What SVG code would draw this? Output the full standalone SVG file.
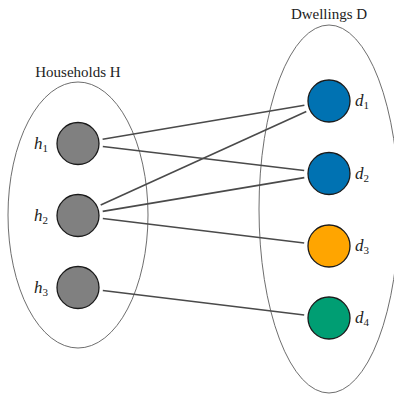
<svg xmlns="http://www.w3.org/2000/svg" width="394" height="394" viewBox="0 0 394 394">
<rect width="394" height="394" fill="#fff"/>
<g id="sets" fill="none" stroke="#6e6e6e" stroke-width="1">
<ellipse cx="78" cy="215" rx="70" ry="133"/>
<ellipse cx="329" cy="209" rx="70" ry="184"/>
</g>
<g id="titles" font-family="Liberation Serif" font-size="15" fill="#222" text-anchor="middle">
<text x="78" y="77">Households H</text>
<text x="329" y="19">Dwellings D</text>
</g>
<g id="edges" stroke="#4a4a4a" stroke-width="1.6" fill="none">
<line x1="102.6" y1="139.3" x2="304.4" y2="105.2"/>
<line x1="102.8" y1="146.5" x2="304.2" y2="170.5"/>
<line x1="100.7" y1="205.1" x2="306.3" y2="111.4"/>
<line x1="102.7" y1="211.4" x2="304.3" y2="177.6"/>
<line x1="102.8" y1="218.5" x2="304.2" y2="243"/>
<line x1="102.8" y1="290.5" x2="304.2" y2="315"/>
</g>
<g id="nodes" stroke="#1a1a1a" stroke-width="1.3">
<g id="h1"><circle cx="78" cy="143.5" r="21" fill="#808080"/><text x="34" y="149" stroke="none" font-family="Liberation Serif" font-size="17" font-style="italic" fill="#222">h<tspan font-size="11" font-style="normal" dy="3">1</tspan></text></g>
<g id="h2"><circle cx="78" cy="215.5" r="21" fill="#808080"/><text x="34" y="221" stroke="none" font-family="Liberation Serif" font-size="17" font-style="italic" fill="#222">h<tspan font-size="11" font-style="normal" dy="3">2</tspan></text></g>
<g id="h3"><circle cx="78" cy="287.5" r="21" fill="#808080"/><text x="34" y="293" stroke="none" font-family="Liberation Serif" font-size="17" font-style="italic" fill="#222">h<tspan font-size="11" font-style="normal" dy="3">3</tspan></text></g>
<g id="d1"><circle cx="329" cy="101" r="21" fill="#0072B2"/><text x="355" y="106" stroke="none" font-family="Liberation Serif" font-size="17" font-style="italic" fill="#222">d<tspan font-size="11" font-style="normal" dy="3">1</tspan></text></g>
<g id="d2"><circle cx="329" cy="173.5" r="21" fill="#0072B2"/><text x="355" y="178.5" stroke="none" font-family="Liberation Serif" font-size="17" font-style="italic" fill="#222">d<tspan font-size="11" font-style="normal" dy="3">2</tspan></text></g>
<g id="d3"><circle cx="329" cy="246" r="21" fill="#FFA500"/><text x="355" y="251" stroke="none" font-family="Liberation Serif" font-size="17" font-style="italic" fill="#222">d<tspan font-size="11" font-style="normal" dy="3">3</tspan></text></g>
<g id="d4"><circle cx="329" cy="318" r="21" fill="#009E73"/><text x="355" y="323" stroke="none" font-family="Liberation Serif" font-size="17" font-style="italic" fill="#222">d<tspan font-size="11" font-style="normal" dy="3">4</tspan></text></g>
</g>
</svg>
